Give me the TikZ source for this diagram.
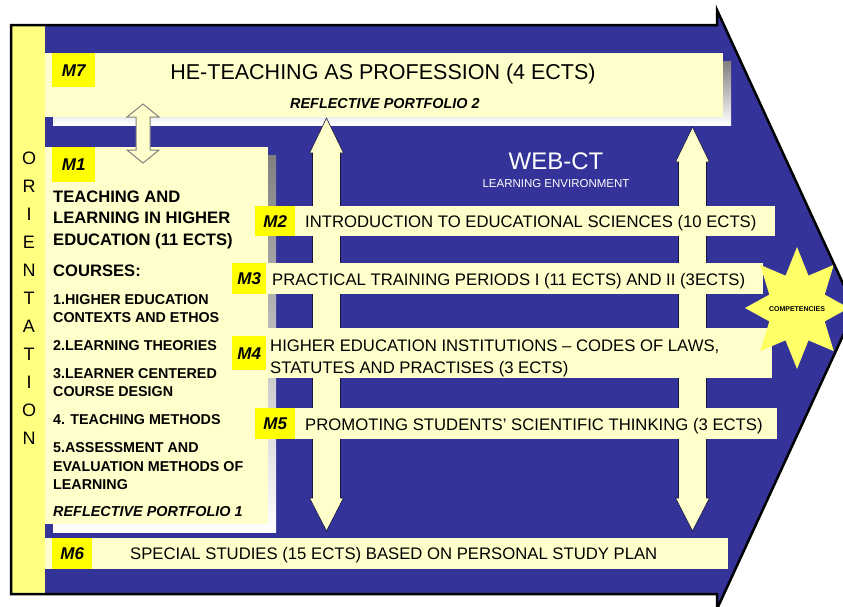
\documentclass[tikz,border=0pt]{standalone}
\usepackage{fontspec}
\setmainfont{Liberation Sans}

\definecolor{navy}{RGB}{51,51,153}
\definecolor{cream}{RGB}{255,255,204}
\definecolor{tagyellow}{RGB}{255,255,0}
\definecolor{stripyellow}{RGB}{255,255,128}
\definecolor{staryellow}{RGB}{255,255,102}
\definecolor{shade}{RGB}{108,108,162}

\tikzset{
  panel/.style={fill=cream, inner sep=0pt, anchor=north west},
  tag/.style={fill=tagyellow, inner sep=0pt, anchor=north west,
    font=\bfseries\itshape\fontsize{17}{17}\selectfont, text height=12pt, text depth=0pt},
  rowtext/.style={inner sep=0pt, anchor=west, font=\fontsize{16.7}{18}\selectfont,
    text height=12pt, text depth=0pt},
  headtext/.style={inner sep=0pt, anchor=west, font=\bfseries\fontsize{16.6}{18}\selectfont,
    text height=12pt, text depth=0pt},
  coursetext/.style={inner sep=0pt, anchor=west, font=\bfseries\fontsize{14.3}{16}\selectfont,
    text height=10.2pt, text depth=0pt},
  portfolio/.style={coursetext, font=\bfseries\itshape\fontsize{14.4}{16}\selectfont},
  oriletter/.style={inner sep=0pt, font=\fontsize{18}{18}\selectfont, text height=12.9pt, text depth=0pt},
  fatarrow/.style={fill=cream, draw=black!60!navy, line width=0.6pt},
}

\begin{document}
\begin{tikzpicture}[x=1pt, y=-1pt]
\useasboundingbox (0,0) rectangle (843,606);
\clip (0,0) rectangle (843,606);

% la grande fleche bleue
\fill[navy] (11,25) -- (717,25) -- (717,10) -- (855,309.5) -- (717,609) -- (717,594) -- (11,594) -- cycle;
\fill[stripyellow] (11,25) rectangle (45,594);

% ombres des modules M7 et M1
\fill[shade] (53,61) rectangle (731,125);
\fill[shade] (53,155) rectangle (276,532);

\node[panel, minimum width=678pt, minimum height=64pt] (m7) at (45,53) {};
\node[panel, minimum width=223pt, minimum height=377pt] (m1) at (45,147) {};

% les deux fleches verticales
\foreach \cx/\ya/\yb in {326.5/118/153, 692.5/127/162}
  \filldraw[fatarrow] (\cx,\ya) -- (\cx+17,\yb) -- (\cx+14,\yb) -- (\cx+14,498) -- (\cx+17,498)
    -- (\cx,531) -- (\cx-17,498) -- (\cx-14,498) -- (\cx-14,\yb) -- (\cx-17,\yb) -- cycle;

% double fleche M7 <-> M1
\filldraw[fill=cream, draw=gray, line width=1pt] (143,104) -- (159,117) -- (150,117) -- (150,150)
  -- (159,150) -- (143,163) -- (127,150) -- (136,150) -- (136,117) -- (127,117) -- cycle;

% modules M2 a M6
\node[panel, minimum width=520pt, minimum height=30pt] (m2) at (255,206) {};
\node[panel, minimum width=531pt, minimum height=31pt] (m3) at (232,263) {};
\node[panel, minimum width=540pt, minimum height=50pt] (m4) at (232,328) {};
\node[panel, minimum width=522pt, minimum height=31pt] (m5) at (255,408) {};
\node[panel, minimum width=683pt, minimum height=31pt] (m6) at (45,538) {};

% etiquettes
\node[tag, minimum width=43pt, minimum height=34pt] (m7tag) at (52,53) {M7};
\node[tag, minimum width=43pt, minimum height=35pt] (m1tag) at (52,147) {M1};
\node[tag, minimum width=40pt, minimum height=30pt] (m2tag) at (255,206) {M2};
\node[tag, minimum width=34pt, minimum height=31pt] (m3tag) at (232,263) {M3};
\node[tag, minimum width=34pt, minimum height=34pt] (m4tag) at (232,336) {M4};
\node[tag, minimum width=40pt, minimum height=31pt] (m5tag) at (255,408) {M5};
\node[tag, minimum width=40pt, minimum height=31pt] (m6tag) at (52,538) {M6};

% textes
\node[inner sep=0pt, font=\fontsize{21.5}{22}\selectfont, text height=15.4pt, text depth=0pt]
  (m7title) at (383,72) {HE-TEACHING AS PROFESSION (4 ECTS)};
\node[portfolio] (m7port) at (290,103) {REFLECTIVE PORTFOLIO 2};

\foreach \y/\t [count=\i] in {196/TEACHING AND, 217.5/LEARNING IN HIGHER,
    239/EDUCATION (11 ECTS), 270/COURSES:}
  \node[headtext] (head\i) at (53,\y) {\t};
\foreach \y/\t [count=\i] in {299/1.HIGHER EDUCATION, 317/CONTEXTS AND ETHOS,
    345/2.LEARNING THEORIES, 373/3.LEARNER CENTERED, 391/COURSE DESIGN,
    419/4. TEACHING METHODS, 447/5.ASSESSMENT AND, 466/EVALUATION METHODS OF, 484/LEARNING}
  \node[coursetext] (course\i) at (53,\y) {\t};
\node[portfolio] (m1port) at (53,511) {REFLECTIVE PORTFOLIO 1};

\node[rowtext] (m2txt) at (305,221) {INTRODUCTION TO EDUCATIONAL SCIENCES (10 ECTS)};
\node[rowtext] (m3txt) at (272,279) {PRACTICAL TRAINING PERIODS I (11 ECTS) AND II (3ECTS)};
\node[rowtext] (m4txta) at (270,345) {HIGHER EDUCATION INSTITUTIONS – CODES OF LAWS,};
\node[rowtext] (m4txtb) at (270,367) {STATUTES AND PRACTISES (3 ECTS)};
\node[rowtext] (m5txt) at (305,424) {PROMOTING STUDENTS’ SCIENTIFIC THINKING (3 ECTS)};
\node[rowtext] (m6txt) at (130,553) {SPECIAL STUDIES (15 ECTS) BASED ON PERSONAL STUDY PLAN};

% orientation
\foreach \l [count=\i from 0] in {O,R,I,E,N,T,A,T,I,O,N}
  \node[oriletter] (ori\i) at (29,{158+28*\i}) {\l};

% WEB-CT
\node[inner sep=0pt, text=white, font=\fontsize{24}{24}\selectfont] (webct) at (556,161) {WEB-CT};
\node[inner sep=0pt, text=white, font=\fontsize{11.5}{12}\selectfont] (webenv) at (556,184) {LEARNING ENVIRONMENT};

% etoile
\fill[staryellow] plot[samples at={0,...,15}, variable=\k]
  ({797+((mod(\k,2)==0) ? 52 : 30)*cos(22.5*\k)}, {308+((mod(\k,2)==0) ? 61 : 35)*sin(22.5*\k)}) -- cycle;
\node[inner sep=0pt, font=\bfseries\fontsize{7}{7}\selectfont] (comp) at (797,309) {COMPETENCIES};

% contour
\draw[black, line width=2.5pt] (11,25) -- (717,25) -- (717,10) -- (855,309.5) -- (717,609) -- (717,594) -- (11,594) -- cycle;
\end{tikzpicture}
\end{document}
